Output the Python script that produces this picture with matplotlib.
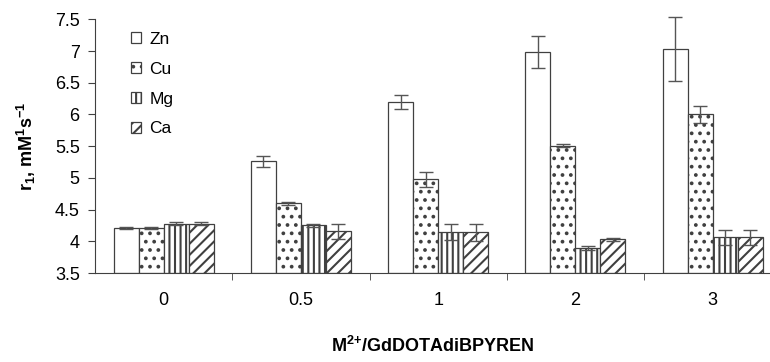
import numpy as np
import matplotlib.pyplot as plt

plt.rcParams["font.family"] = ["Liberation Sans", "DejaVu Sans"]
plt.rcParams["mathtext.fontset"] = "custom"
plt.rcParams["mathtext.rm"] = "Liberation Sans"
plt.rcParams["mathtext.bf"] = "Liberation Sans:bold"
plt.rcParams["hatch.color"] = "black"
plt.rcParams["hatch.linewidth"] = 1.5

groups = ["0", "0.5", "1", "2", "3"]
metals = ["Zn", "Cu", "Mg", "Ca"]
zn = [4.21, 5.26, 6.19, 6.99, 7.03]
cu = [4.21, 4.60, 4.98, 5.51, 6.00]
mg = [4.28, 4.25, 4.15, 3.89, 4.06]
ca = [4.28, 4.16, 4.14, 4.03, 4.06]
zn_err = [0.02, 0.09, 0.11, 0.25, 0.51]
cu_err = [0.02, 0.02, 0.12, 0.02, 0.13]
mg_err = [0.02, 0.03, 0.13, 0.03, 0.12]
ca_err = [0.02, 0.12, 0.13, 0.02, 0.12]

values = [zn, cu, mg, ca]
errors = [zn_err, cu_err, mg_err, ca_err]
hatches = ["", "..", "|||", "///"]

fig = plt.figure(figsize=(7.7, 3.62), dpi=100)
ax = fig.add_axes([95 / 770, 89 / 362, 1 - 95 / 770, (273 - 19.3) / 362])

x = np.arange(len(groups))
w = 0.182
for i, (m, v, e) in enumerate(zip(metals, values, errors)):
    ax.bar(x + (i - 1.5) * w, np.array(v) - 3.5, w, bottom=3.5,
           color="white", edgecolor="#404040", linewidth=0.9,
           hatch=hatches[i], label=m)
    eb = ax.errorbar(x + (i - 1.5) * w, v, yerr=e, fmt="none", ecolor="#555555",
                     elinewidth=1.0, capsize=5, capthick=1.0)
    for art in eb.lines[1] + eb.lines[2]:
        art.set_clip_on(False)

ax.set_ylim(3.5, 7.5)
ax.set_xlim(-0.5, (770 - 163) / 137.4)
ax.set_yticks(np.arange(3.5, 7.51, 0.5))
ax.set_yticklabels(["3.5", "4", "4.5", "5", "5.5", "6", "6.5", "7", "7.5"])
ax.set_xticks(x)
ax.set_xticklabels(groups)
ax.set_xticks(x[:-1] + 0.5, minor=True)
ax.tick_params(axis="x", which="major", length=0, pad=14, labelsize=13)
ax.tick_params(axis="x", which="minor", length=5, direction="out", color="#404040")
ax.tick_params(axis="y", length=5, direction="out", color="#404040", labelsize=13, pad=6)
for s in ["top", "right"]:
    ax.spines[s].set_visible(False)
for s in ["left", "bottom"]:
    ax.spines[s].set_color("#404040")

ax.set_ylabel(r"r$_{\mathbf{1}}$, mM$^{\mathbf{1}}$s$^{\mathbf{-1}}$",
              fontsize=13, fontweight="bold", labelpad=12)
ax.set_xlabel(r"M$^{\mathbf{2{+}}}$/GdDOTAdiBPYREN", fontsize=13,
              fontweight="bold", labelpad=19)

ax.legend(loc="upper left", bbox_to_anchor=(131 / 770, 1 - 32 / 362),
          bbox_transform=fig.transFigure, frameon=False, fontsize=12.5,
          borderpad=0, borderaxespad=0, handlelength=0.6, handleheight=0.6,
          handletextpad=0.45, labelspacing=0.85)

fig.savefig("out.png", dpi=100)
